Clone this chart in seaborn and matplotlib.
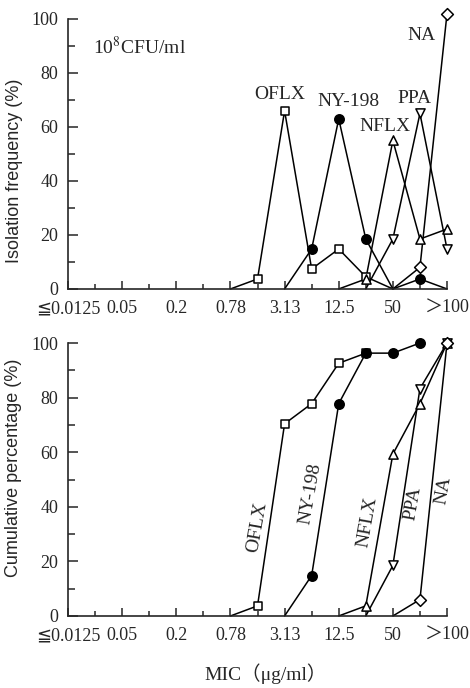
import numpy as np
import pandas as pd
import matplotlib
matplotlib.use("Agg")
import matplotlib.pyplot as plt
from matplotlib.ticker import FixedLocator, NullFormatter
import seaborn as sns

# MIC dilution series (µg/ml); every other level carries a tick label
mic_levels = ["0.0125", "0.025", "0.05", "0.1", "0.2", "0.39", "0.78", "1.56",
              "3.13", "6.25", "12.5", "25", "50", "100", ">100"]
tick_labels = ["≦0.0125", "0.05", "0.2", "0.78", "3.13", "12.5", "50", "＞100"]

drugs = ["OFLX", "NY-198", "NFLX", "PPA", "NA"]
# first MIC level of each curve
start_level = {"OFLX": "0.78", "NY-198": "3.13", "NFLX": "12.5", "PPA": "25", "NA": "50"}

# isolation frequency (%)
oflx_freq = [0, 3.7, 66.0, 7.4, 14.8, 4.5, 0]
ny198_freq = [0, 14.8, 63.0, 18.5, 0, 3.7, 0]
nflx_freq = [0, 3.7, 55.0, 18.5, 22.2]
ppa_freq = [0, 18.5, 65.0, 14.8]
na_freq = [0, 8.0, 102.0]

# cumulative percentage (%)
oflx_cum = [0, 3.7, 70.4, 77.8, 92.6, 96.3]
ny198_cum = [0, 14.8, 77.8, 96.3, 96.3, 100]
nflx_cum = [0, 3.7, 59.3, 77.8, 100]
ppa_cum = [0, 18.5, 83.3, 100]
na_cum = [0, 6.0, 100]

freq = {"OFLX": oflx_freq, "NY-198": ny198_freq, "NFLX": nflx_freq,
        "PPA": ppa_freq, "NA": na_freq}
cum = {"OFLX": oflx_cum, "NY-198": ny198_cum, "NFLX": nflx_cum,
       "PPA": ppa_cum, "NA": na_cum}

marker_style = {
    "OFLX": dict(marker="s", s=40, facecolor="white"),
    "NY-198": dict(marker="o", s=46, facecolor="black"),
    "NFLX": dict(marker="^", s=44, facecolor="white"),
    "PPA": dict(marker="v", s=44, facecolor="white"),
    "NA": dict(marker="D", s=36, facecolor="white"),
}


def to_frame(series):
    rows = []
    for d in drugs:
        i0 = mic_levels.index(start_level[d])
        for k, v in enumerate(series[d]):
            rows.append({"drug": d, "pos": i0 + k, "mic": mic_levels[i0 + k], "value": v})
    return pd.DataFrame(rows)


sns.set_style("ticks")
serif = ["Liberation Serif", "DejaVu Sans", "Noto Sans CJK JP"]
sans = ["Liberation Sans", "DejaVu Sans"]
plt.rcParams["font.family"] = serif
plt.rcParams["mathtext.fontset"] = "stix"

fig = plt.figure(figsize=(4.70, 6.88), dpi=100)
ax_top = fig.add_axes([0.1447, 0.580, 0.8064, 0.3924])
ax_bot = fig.add_axes([0.1447, 0.1047, 0.8064, 0.3967])


def draw(ax, series):
    df = to_frame(series)
    for d in drugs:
        sub = df[df["drug"] == d]
        sns.lineplot(data=sub, x="pos", y="value", color="black", lw=1.1,
                     sort=False, estimator=None, ax=ax, legend=False, clip_on=False)
    for d in drugs:
        sub = df[(df["drug"] == d) & (df["value"] > 0)]
        st = marker_style[d]
        sns.scatterplot(data=sub, x="pos", y="value", marker=st["marker"], s=st["s"],
                        color=st["facecolor"], edgecolor="black", linewidth=1.1,
                        ax=ax, legend=False, zorder=5, clip_on=False)

    ax.set_xlim(0, len(mic_levels) - 1)
    ax.set_ylim(0, 100)
    ax.xaxis.set_major_locator(FixedLocator(list(range(0, 15, 2))))
    ax.xaxis.set_minor_locator(FixedLocator(list(range(1, 15, 2))))
    ax.set_xticklabels(tick_labels)
    ax.yaxis.set_major_locator(FixedLocator([0, 20, 40, 60, 80, 100]))
    ax.yaxis.set_minor_locator(FixedLocator([10, 30, 50, 70, 90]))
    ax.yaxis.set_minor_formatter(NullFormatter())
    ax.tick_params(axis="x", which="major", direction="in", length=6, width=1.1,
                   labelsize=13, pad=8)
    ax.tick_params(axis="x", which="minor", direction="in", length=3.5, width=1.1)
    ax.tick_params(axis="y", which="major", direction="in", length=7, width=1.1,
                   labelsize=13, pad=7)
    ax.tick_params(axis="y", which="minor", direction="in", length=5, width=1.1)
    for s in ("top", "right"):
        ax.spines[s].set_visible(False)
    for s in ("left", "bottom"):
        ax.spines[s].set_linewidth(1.2)
    ax.set_xlabel("")


draw(ax_top, freq)
draw(ax_bot, cum)

ax_top.set_ylabel("Isolation frequency (%)", family=sans, fontsize=13)
ax_top.yaxis.set_label_coords(-0.118, 0.437)
ax_bot.set_ylabel("Cumulative percentage (%)", family=sans, fontsize=13)
ax_bot.yaxis.set_label_coords(-0.121, 0.542)
ax_bot.set_xlabel("MIC（μg/ml）", family=serif, fontsize=14)
ax_bot.xaxis.set_label_coords(0.52, -0.175)

# curve names, upper panel
ax_top.text(0.92, 89.6, "10$^{8}$CFU/ml", fontsize=14, ha="left", va="center")
top_names = {"OFLX": (7.83, 71.9), "NY-198": (10.35, 69.6), "NFLX": (11.7, 60.0),
             "PPA": (12.8, 70.7), "NA": (13.05, 93.7)}
for name, (x, y) in top_names.items():
    ax_top.text(x, y, name, fontsize=14, ha="center", va="center")

# curve names, lower panel (written along the curves)
bot_names = {"OFLX": (6.98, 32.6), "NY-198": (8.94, 45.0), "NFLX": (11.05, 34.4),
             "PPA": (12.74, 41.4), "NA": (13.85, 46.0)}
for name, (x, y) in bot_names.items():
    ax_bot.text(x, y, name, fontsize=14, ha="center", va="center", rotation=80)

fig.savefig("out.png", dpi=100)
